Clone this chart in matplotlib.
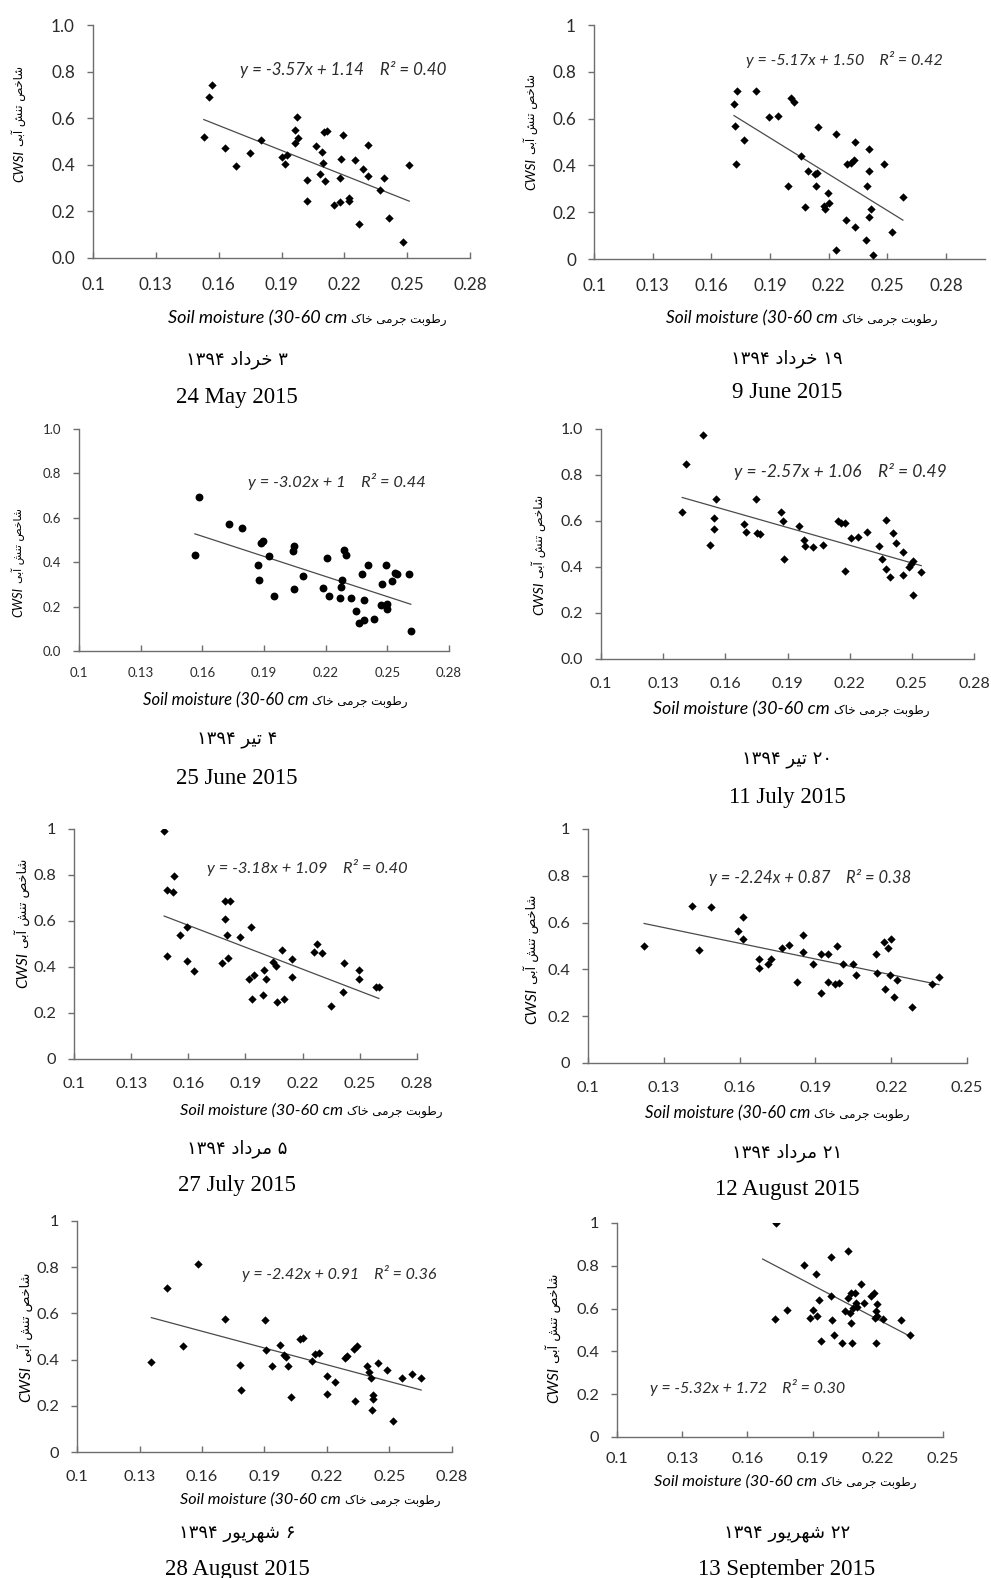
import numpy as np
import matplotlib.pyplot as plt

# ---- data (soil moisture vs CWSI) ----
x_may24 = [0.1529, 0.1553, 0.1566, 0.1629, 0.1685, 0.1749, 0.1801, 0.1900, 0.1924, 0.1919,
           0.1964, 0.1976, 0.1980, 0.1964, 0.2020, 0.2021, 0.2064, 0.2093, 0.2096, 0.2083,
           0.2107, 0.2102, 0.2115, 0.2192, 0.2182, 0.2179, 0.2152, 0.2179, 0.2223, 0.2223,
           0.2251, 0.2271, 0.2290, 0.2314, 0.2314, 0.2370, 0.2389, 0.2411, 0.2478, 0.2510]
y_may24 = [0.519, 0.691, 0.743, 0.470, 0.393, 0.450, 0.507, 0.434, 0.443, 0.403,
           0.550, 0.607, 0.514, 0.493, 0.333, 0.246, 0.479, 0.457, 0.407, 0.361,
           0.330, 0.539, 0.547, 0.527, 0.426, 0.343, 0.226, 0.241, 0.257, 0.243,
           0.421, 0.146, 0.383, 0.350, 0.486, 0.290, 0.343, 0.173, 0.070, 0.401]

x_jun09 = [0.1730, 0.1716, 0.1721, 0.1724, 0.1769, 0.1828, 0.1893, 0.1943, 0.2007, 0.2024,
           0.1990, 0.2057, 0.2077, 0.2093, 0.2132, 0.2139, 0.2135, 0.2144, 0.2176, 0.2183,
           0.2195, 0.2203, 0.2236, 0.2237, 0.2289, 0.2295, 0.2314, 0.2329, 0.2336, 0.2336,
           0.2391, 0.2398, 0.2405, 0.2406, 0.2406, 0.2418, 0.2427, 0.2485, 0.2522, 0.2580]
y_jun09 = [0.720, 0.664, 0.568, 0.408, 0.508, 0.720, 0.607, 0.612, 0.686, 0.671,
           0.313, 0.440, 0.223, 0.377, 0.364, 0.368, 0.313, 0.565, 0.225, 0.212,
           0.280, 0.240, 0.040, 0.536, 0.168, 0.407, 0.410, 0.424, 0.498, 0.137,
           0.080, 0.313, 0.468, 0.377, 0.178, 0.213, 0.017, 0.404, 0.117, 0.265]

x_jun25 = [0.1564, 0.1585, 0.1731, 0.1791, 0.1870, 0.1875, 0.1885, 0.1894, 0.1922, 0.1948,
           0.2042, 0.2047, 0.2045, 0.2090, 0.2187, 0.2208, 0.2217, 0.2268, 0.2273, 0.2281,
           0.2290, 0.2299, 0.2325, 0.2346, 0.2361, 0.2385, 0.2377, 0.2388, 0.2408, 0.2437,
           0.2471, 0.2476, 0.2495, 0.2500, 0.2500, 0.2521, 0.2536, 0.2546, 0.2605, 0.2614]
y_jun25 = [0.432, 0.692, 0.570, 0.556, 0.388, 0.320, 0.486, 0.495, 0.427, 0.248,
           0.451, 0.474, 0.280, 0.340, 0.283, 0.420, 0.248, 0.239, 0.287, 0.320,
           0.456, 0.432, 0.239, 0.180, 0.125, 0.140, 0.347, 0.230, 0.388, 0.144,
           0.205, 0.304, 0.388, 0.212, 0.191, 0.316, 0.352, 0.347, 0.347, 0.092]

x_jul11 = [0.1392, 0.1410, 0.1493, 0.1528, 0.1543, 0.1546, 0.1556, 0.1692, 0.1702, 0.1748,
           0.1753, 0.1766, 0.1867, 0.1880, 0.1885, 0.1957, 0.1980, 0.1984, 0.2025, 0.2070,
           0.2143, 0.2160, 0.2177, 0.2179, 0.2206, 0.2238, 0.2286, 0.2341, 0.2357, 0.2375,
           0.2376, 0.2396, 0.2407, 0.2426, 0.2455, 0.2455, 0.2486, 0.2497, 0.2506, 0.2506, 0.2545]
y_jul11 = [0.640, 0.846, 0.974, 0.495, 0.615, 0.567, 0.697, 0.586, 0.553, 0.694,
           0.550, 0.543, 0.640, 0.599, 0.435, 0.579, 0.518, 0.493, 0.485, 0.495,
           0.599, 0.591, 0.591, 0.383, 0.528, 0.531, 0.553, 0.492, 0.435, 0.393,
           0.604, 0.358, 0.549, 0.505, 0.464, 0.367, 0.398, 0.412, 0.424, 0.279, 0.379]

x_jul27 = [0.1473, 0.1490, 0.1522, 0.1525, 0.1490, 0.1557, 0.1592, 0.1592, 0.1630, 0.1790,
           0.1818, 0.1795, 0.1805, 0.1807, 0.1776, 0.1872, 0.1928, 0.1918, 0.1946, 0.1933,
           0.1998, 0.2007, 0.1993, 0.2044, 0.2061, 0.2065, 0.2093, 0.2100, 0.2142, 0.2145,
           0.2257, 0.2275, 0.2301, 0.2350, 0.2415, 0.2410, 0.2495, 0.2497, 0.2583, 0.2600]
y_jul27 = [0.993, 0.734, 0.727, 0.797, 0.448, 0.540, 0.575, 0.427, 0.383, 0.686,
           0.686, 0.610, 0.540, 0.438, 0.417, 0.531, 0.575, 0.347, 0.367, 0.261,
           0.386, 0.347, 0.277, 0.421, 0.406, 0.250, 0.476, 0.261, 0.435, 0.356,
           0.464, 0.501, 0.462, 0.231, 0.417, 0.292, 0.386, 0.347, 0.312, 0.312]

x_aug12 = [0.1222, 0.1412, 0.1439, 0.1488, 0.1592, 0.1612, 0.1612, 0.1678, 0.1678, 0.1711,
           0.1726, 0.1769, 0.1794, 0.1829, 0.1850, 0.1850, 0.1889, 0.1922, 0.1922, 0.1951,
           0.1949, 0.1979, 0.1985, 0.1995, 0.2010, 0.2047, 0.2060, 0.2141, 0.2143, 0.2172,
           0.2175, 0.2187, 0.2199, 0.2196, 0.2212, 0.2224, 0.2281, 0.2361, 0.2389]
y_aug12 = [0.499, 0.670, 0.484, 0.667, 0.566, 0.623, 0.531, 0.446, 0.406, 0.422,
           0.446, 0.493, 0.503, 0.348, 0.546, 0.473, 0.422, 0.464, 0.301, 0.464,
           0.348, 0.339, 0.499, 0.340, 0.422, 0.422, 0.375, 0.467, 0.383, 0.517,
           0.316, 0.493, 0.531, 0.375, 0.282, 0.355, 0.239, 0.336, 0.368]

x_aug28 = [0.1357, 0.1434, 0.1511, 0.1583, 0.1708, 0.1782, 0.1785, 0.1901, 0.1905, 0.1934,
           0.1974, 0.1994, 0.2003, 0.2011, 0.2029, 0.2072, 0.2083, 0.2128, 0.2144, 0.2163,
           0.2202, 0.2202, 0.2237, 0.2285, 0.2298, 0.2332, 0.2343, 0.2333, 0.2393, 0.2404,
           0.2409, 0.2420, 0.2420, 0.2414, 0.2447, 0.2490, 0.2519, 0.2561, 0.2606, 0.2652]
y_aug28 = [0.388, 0.709, 0.460, 0.813, 0.576, 0.377, 0.268, 0.570, 0.440, 0.371,
           0.462, 0.420, 0.413, 0.371, 0.239, 0.488, 0.495, 0.396, 0.424, 0.427,
           0.331, 0.253, 0.305, 0.409, 0.416, 0.447, 0.460, 0.219, 0.374, 0.348,
           0.319, 0.246, 0.230, 0.181, 0.386, 0.353, 0.134, 0.319, 0.337, 0.319]

x_sep13 = [0.1730, 0.1727, 0.1784, 0.1862, 0.1915, 0.1986, 0.2064, 0.1888, 0.1903, 0.1921,
           0.1928, 0.1937, 0.1986, 0.1990, 0.1998, 0.2036, 0.2047, 0.2064, 0.2071, 0.2076,
           0.2076, 0.2082, 0.2087, 0.2094, 0.2099, 0.2123, 0.2136, 0.2171, 0.2182, 0.2185,
           0.2194, 0.2197, 0.2197, 0.2194, 0.2225, 0.2307, 0.2350, 0.2105]
y_sep13 = [1.000, 0.553, 0.593, 0.804, 0.761, 0.839, 0.868, 0.554, 0.593, 0.567,
           0.640, 0.450, 0.661, 0.545, 0.478, 0.438, 0.589, 0.648, 0.578, 0.672,
           0.533, 0.438, 0.601, 0.674, 0.624, 0.716, 0.624, 0.661, 0.672, 0.554,
           0.589, 0.623, 0.565, 0.438, 0.553, 0.545, 0.477, 0.609]

slopes = [-3.57, -5.17, -3.02, -2.57, -3.18, -2.24, -2.42, -5.32]
intercepts = [1.14, 1.50, 1, 1.06, 1.09, 0.87, 0.91, 1.72]
r2 = ['0.40', '0.42', '0.44', '0.49', '0.40', '0.38', '0.36', '0.30']
trend_start = [None, None, None, None, None, None, None, 0.167]

en_dates = ['24 May 2015', '9 June 2015', '25 June 2015', '11 July 2015',
            '27 July 2015', '12 August 2015', '28 August 2015', '13 September 2015']
fa_dates = ['۳ خرداد ۱۳۹۴', '۱۹ خرداد ۱۳۹۴', '۴ تیر ۱۳۹۴', '۲۰ تیر ۱۳۹۴',
            '۵ مرداد ۱۳۹۴', '۲۱ مرداد ۱۳۹۴', '۶ شهریور ۱۳۹۴', '۲۲ شهریور ۱۳۹۴']

# ---- tiny Persian shaper (matplotlib has no bidi / joining) ----
FORMS = {  # isolated, final, initial, medial
    'ا': ('\uFE8D', '\uFE8E', None, None),
    'آ': ('\uFE81', '\uFE82', None, None),
    'ب': ('\uFE8F', '\uFE90', '\uFE91', '\uFE92'),
    'ت': ('\uFE95', '\uFE96', '\uFE97', '\uFE98'),
    'ج': ('\uFE9D', '\uFE9E', '\uFE9F', '\uFEA0'),
    'خ': ('\uFEA5', '\uFEA6', '\uFEA7', '\uFEA8'),
    'د': ('\uFEA9', '\uFEAA', None, None),
    'ر': ('\uFEAD', '\uFEAE', None, None),
    'ش': ('\uFEB5', '\uFEB6', '\uFEB7', '\uFEB8'),
    'ص': ('\uFEB9', '\uFEBA', '\uFEBB', '\uFEBC'),
    'ط': ('\uFEC1', '\uFEC2', '\uFEC3', '\uFEC4'),
    'م': ('\uFEE1', '\uFEE2', '\uFEE3', '\uFEE4'),
    'ن': ('\uFEE5', '\uFEE6', '\uFEE7', '\uFEE8'),
    'ه': ('\uFEE9', '\uFEEA', '\uFEEB', '\uFEEC'),
    'و': ('\uFEED', '\uFEEE', None, None),
    'ی': ('\uFBFC', '\uFBFD', '\uFBFE', '\uFBFF'),
    'ک': ('\uFB8E', '\uFB8F', '\uFB90', '\uFB91'),
}


def shape_word(w):
    if not all(ch in FORMS for ch in w):
        return w  # digits stay left-to-right
    out = []
    for i, ch in enumerate(w):
        f = FORMS[ch]
        prev = FORMS.get(w[i - 1]) if i > 0 else None
        nxt = FORMS.get(w[i + 1]) if i + 1 < len(w) else None
        jp = prev is not None and prev[2] is not None
        jn = nxt is not None and f[2] is not None
        out.append(f[3] if (jp and jn) else f[1] if jp else f[2] if jn else f[0])
    return ''.join(reversed(out))


def rtl(text):
    return ' '.join(shape_word(w) for w in reversed(text.split()))


FA_Y = rtl('شاخص تنش آبی')
FA_X = rtl('رطوبت جرمی خاک')

W, H = 991, 1578
fig = plt.figure(figsize=(W / 100, H / 100), dpi=100, facecolor='white')


def px(x, y):
    return x / W, 1 - y / H


panels = [
    (x_may24, y_may24), (x_jun09, y_jun09), (x_jun25, y_jun25), (x_jul11, y_jul11),
    (x_jul27, y_jul27), (x_aug12, y_aug12), (x_aug28, y_aug28), (x_sep13, y_sep13),
]

# layout in pixels: axes box, x max, y tick format, equation centre, font sizes,
# x label (boundary x, baseline y, size), dates (centre x, fa y, en y), y label (baseline x, boundary y, size)
layout = [
    dict(box=(93, 25, 470, 258), xmax=0.28, yfmt='%.1f', eq=(343, 70), tfs=12.3, efs=12.2, xpad=13.5,
         xl=(347, 323, 13.0), dt=(237, 360, 397), yl=(23, 150, 9.8), marker='D'),
    dict(box=(594, 25, 985, 259), xmax=0.30, yfmt='%g', eq=(844, 59), tfs=12.3, efs=11.6, xpad=13.5,
         xl=(838, 323, 12.4), dt=(787, 359, 393), yl=(535, 158, 9.8), marker='D'),
    dict(box=(79, 429, 449, 651), xmax=0.28, yfmt='%.1f', eq=(337, 481), tfs=9.5, efs=11.8, xpad=11.3,
         xl=(308, 705, 12.0), dt=(237, 740, 779), yl=(22, 587, 9.2), marker='o'),
    dict(box=(601, 429, 974, 659), xmax=0.28, yfmt='%.1f', eq=(840, 471), tfs=11.5, efs=12.5, xpad=12.8,
         xl=(830, 714, 12.8), dt=(787, 760, 797), yl=(543, 582, 10.3), marker='D'),
    dict(box=(74, 829, 417, 1059), xmax=0.28, yfmt='%g', eq=(307, 868), tfs=11.8, efs=11.8, xpad=13,
         xl=(343, 1115, 11.8), dt=(237, 1149, 1185), yl=(27, 952, 11.0), marker='D'),
    dict(box=(588, 829, 967, 1063), xmax=0.25, yfmt='%g', eq=(810, 878), tfs=11.8, efs=11.9, xpad=13,
         xl=(810, 1118, 12.0), dt=(787, 1153, 1190), yl=(536, 988, 11.0), marker='D'),
    dict(box=(77, 1221, 452, 1452), xmax=0.28, yfmt='%g', eq=(339, 1273), tfs=11.8, efs=11.5, xpad=13,
         xl=(341, 1504, 11.6), dt=(237, 1534, 1570), yl=(30, 1366, 11.0), marker='D'),
    dict(box=(617, 1223, 943, 1437), xmax=0.25, yfmt='%g', eq=(748, 1388), tfs=11.8, efs=11.5, xpad=10.6,
         xl=(817, 1486, 11.8), dt=(787, 1534, 1570), yl=(558, 1367, 11.0), marker='D'),
]

AXC = '#6e6e6e'
TXT = '#2b2b2b'

for i, ((xs, ys), L) in enumerate(zip(panels, layout)):
    l, t, r, b = L['box']
    ax = fig.add_axes([l / W, 1 - b / H, (r - l) / W, (b - t) / H])
    ax.set_xlim(0.1, L['xmax'])
    ax.set_ylim(0, 1)
    top_tick = 0.28 if L['xmax'] >= 0.28 else 0.25
    xt = np.round(np.arange(0.1, top_tick + 1e-9, 0.03), 2)
    ax.set_xticks(xt)
    ax.set_xticklabels(['%g' % v for v in xt])
    yt = np.round(np.arange(0, 1.0001, 0.2), 1)
    ax.set_yticks(yt)
    ax.set_yticklabels([L['yfmt'] % v for v in yt])
    for s in ('top', 'right'):
        ax.spines[s].set_visible(False)
    for s in ('left', 'bottom'):
        ax.spines[s].set_color(AXC)
        ax.spines[s].set_linewidth(1.0)
    ax.tick_params(axis='x', direction='in', length=4, width=1, color=AXC, pad=L['xpad'],
                   labelsize=L['tfs'], labelcolor=TXT)
    ax.tick_params(axis='y', direction='out', length=4, width=1, color=AXC, pad=9,
                   labelsize=L['tfs'], labelcolor=TXT)
    for lab in ax.get_xticklabels() + ax.get_yticklabels():
        lab.set_family('Lato')

    ms = 32 if L['marker'] == 'o' else 18
    ax.scatter(xs, ys, s=ms, marker=L['marker'], color='black', linewidths=0, zorder=3)

    x0 = trend_start[i] if trend_start[i] is not None else min(xs)
    fx = np.array([x0, max(xs)])
    ax.plot(fx, slopes[i] * fx + intercepts[i], color='#4a4a4a', lw=0.9, zorder=2)

    icpt = '1' if intercepts[i] == 1 else '%.2f' % intercepts[i]
    eq = 'y = %gx + %s    R² = %s' % (slopes[i], icpt, r2[i])
    fig.text(*px(*L['eq']), eq, ha='center', va='center', fontsize=L['efs'],
             style='italic', family='Lato', color=TXT)

    # x label: english part + persian part
    bx, by, xfs = L['xl']
    fig.text(*px(bx, by), 'Soil moisture (30-60 cm', ha='right', va='baseline',
             fontsize=xfs, style='italic', family='Lato', color='black')
    fig.text(*px(bx + 4, by), FA_X, ha='left', va='baseline',
             fontsize=8.6, family='DejaVu Sans', color='black')

    # y label: CWSI + persian, rotated
    yx, yb, yfs = L['yl']
    fig.text(*px(yx, yb), 'CWSI', rotation=90, rotation_mode='anchor', ha='right',
             va='baseline', fontsize=yfs, style='italic', family='Lato', color='black')
    fig.text(*px(yx, yb - 4), FA_Y, rotation=90, rotation_mode='anchor', ha='left',
             va='baseline', fontsize=yfs * 0.85, family='DejaVu Sans', color='black')

    # captions
    cx, fy, ey = L['dt']
    fig.text(*px(cx, fy), rtl(fa_dates[i]), ha='center', va='center', fontsize=13,
             family='DejaVu Sans', color='black')
    fig.text(*px(cx, ey), en_dates[i], ha='center', va='center', fontsize=16.5,
             family='Liberation Serif', color='black')

fig.savefig('out.png', dpi=100, facecolor='white')
